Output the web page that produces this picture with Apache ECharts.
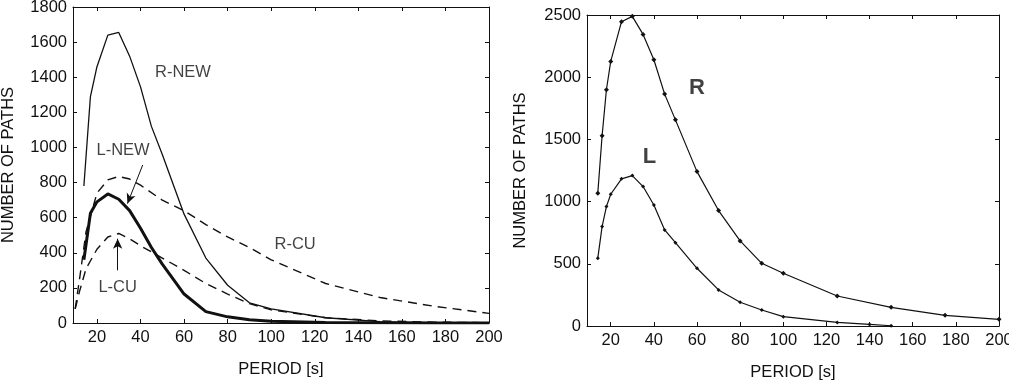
<!DOCTYPE html>
<html>
<head>
<meta charset="utf-8">
<script src="https://cdn.jsdelivr.net/npm/echarts@6/dist/echarts.min.js"></script>
<style>
  html, body { margin: 0; padding: 0; background: #fff; }
  #chart { width: 1009px; height: 386px; }
</style>
</head>
<body>
<div id="chart"></div>
<script>
// left panel: period [s] and number of paths per curve
const periodsNew = [14, 17, 20, 25, 30, 35, 40, 45, 50, 60, 70, 80, 90, 100, 125, 150, 175, 200]
const rNew = [780, 1290, 1460, 1640, 1655, 1520, 1345, 1120, 960, 620, 370, 215, 115, 80, 30, 8, 2, 0]
const lNew = [360, 625, 690, 735, 705, 640, 540, 430, 335, 165, 65, 35, 18, 10, 3, 1, 0, 0]

const periodsCu = [10, 12, 15, 20, 25, 30, 35, 40, 50, 60, 70, 80, 90, 100, 125, 150, 175, 200]
const rCu = [80, 250, 520, 740, 815, 835, 820, 785, 700, 640, 560, 490, 430, 360, 225, 145, 95, 55]
const lCu = [80, 180, 310, 420, 490, 510, 480, 440, 370, 300, 225, 165, 110, 75, 30, 12, 5, 2]

// right panel
const periodsR = [14, 16, 18, 20, 25, 30, 35, 40, 45, 50, 60, 70, 80, 90, 100, 125, 150, 175, 200]
const rVals = [1067, 1529, 1899, 2127, 2446, 2489, 2344, 2140, 1864, 1657, 1241, 928, 684, 504, 424, 241, 150, 86, 54]
const periodsL = [14, 16, 18, 20, 25, 30, 35, 40, 45, 50, 60, 70, 80, 90, 100, 125, 140, 150]
const lVals = [545, 799, 960, 1059, 1183, 1209, 1121, 973, 772, 670, 464, 290, 191, 129, 75, 29, 13, 2]

const xTicks = [20, 40, 60, 80, 100, 120, 140, 160, 180, 200]
const xTitle = 'PERIOD [s]'
const yTitle = 'NUMBER OF PATHS'

const zip = (xs, ys) => xs.map((x, i) => [x, ys[i]])

const font = 'Liberation Sans, Arial, Helvetica, sans-serif'
const ink = '#111'
const fs = 16.5

function xAxisPair(gridIndex) {
  const base = {
    gridIndex: gridIndex,
    type: 'value',
    min: 9,
    max: 200,
    splitLine: { show: false },
    axisLine: { show: true, onZero: false, lineStyle: { color: ink, width: 1 } },
    axisTick: { show: true, inside: true, length: 4, customValues: xTicks, lineStyle: { color: ink } }
  }
  return [
    Object.assign({}, base, {
      position: 'bottom',
      name: xTitle,
      nameLocation: 'middle',
      nameGap: 38,
      nameTextStyle: { fontFamily: font, fontSize: fs, color: ink },
      axisLabel: {
        customValues: xTicks, margin: 6, fontFamily: font, fontSize: fs, color: ink,
        alignMinLabel: 'center', alignMaxLabel: 'center',
        formatter: v => String(v)
      }
    }),
    Object.assign({}, base, { position: 'top', axisLabel: { show: false } })
  ]
}

function yAxisPair(gridIndex, max, step, gap) {
  const base = {
    gridIndex: gridIndex,
    type: 'value',
    min: 0,
    max: max,
    interval: step,
    splitLine: { show: false },
    axisLine: { show: true, onZero: false, lineStyle: { color: ink, width: 1 } },
    axisTick: { show: true, inside: true, length: 4, lineStyle: { color: ink } }
  }
  return [
    Object.assign({}, base, {
      position: 'left',
      name: yTitle,
      nameLocation: 'middle',
      nameGap: gap,
      nameTextStyle: { fontFamily: font, fontSize: fs, color: ink },
      axisLabel: { margin: 6, fontFamily: font, fontSize: fs, color: ink, formatter: v => String(v) }
    }),
    Object.assign({}, base, { position: 'right', axisLabel: { show: false } })
  ]
}

function curve(name, data, width, dashed, xi, yi) {
  return {
    name: name,
    type: 'line',
    xAxisIndex: xi,
    yAxisIndex: yi,
    data: data,
    showSymbol: false,
    lineStyle: { color: ink, width: width, type: dashed ? [9, 6] : 'solid' },
    silent: true,
    z: 3
  }
}

function tag(text, pos, xi, yi, size, bold) {
  return {
    type: 'scatter',
    xAxisIndex: xi,
    yAxisIndex: yi,
    symbolSize: 1,
    itemStyle: { color: 'rgba(0,0,0,0)' },
    silent: true,
    data: [pos],
    label: {
      show: true,
      position: 'inside',
      formatter: text,
      fontFamily: font,
      fontSize: size,
      fontWeight: bold ? 'bold' : 'normal',
      color: ink
    }
  }
}

const arrows = {
  type: 'line',
  xAxisIndex: 0,
  yAxisIndex: 0,
  data: [],
  silent: true,
  markLine: {
    silent: true,
    symbol: ['none', 'arrow'],
    symbolSize: [7, 10],
    label: { show: false },
    lineStyle: { color: ink, width: 1, type: 'solid' },
    data: [
      [{ coord: [41, 900] }, { coord: [34, 680] }],
      [{ coord: [29.5, 300] }, { coord: [29.5, 480] }]
    ]
  }
}

const chart = echarts.init(document.getElementById('chart'))
chart.setOption({
  animation: false,
  backgroundColor: '#fff',
  grid: [
    { left: 73, top: 7, right: 520, bottom: 63, outerBoundsMode: 'none' },
    { left: 587, top: 15, right: 10, bottom: 60, outerBoundsMode: 'none' }
  ],
  xAxis: [...xAxisPair(0), ...xAxisPair(1)],
  yAxis: [...yAxisPair(0, 1800, 200, 56), ...yAxisPair(1, 2500, 500, 58)],
  series: [
    curve('R-NEW', zip(periodsNew, rNew), 1.3, false, 0, 0),
    curve('L-NEW', zip(periodsNew, lNew), 3, false, 0, 0),
    curve('R-CU', zip(periodsCu, rCu), 1.4, true, 0, 0),
    curve('L-CU', zip(periodsCu, lCu), 1.4, true, 0, 0),
    arrows,
    tag('R-NEW', [59.5, 1430], 0, 0, fs, false),
    tag('L-NEW', [32, 985], 0, 0, fs, false),
    tag('L-CU', [29.5, 205], 0, 0, fs, false),
    tag('R-CU', [111, 450], 0, 0, fs, false),
    {
      name: 'R',
      type: 'line',
      xAxisIndex: 2,
      yAxisIndex: 2,
      data: zip(periodsR, rVals),
      symbol: 'diamond',
      symbolSize: 5,
      itemStyle: { color: ink },
      lineStyle: { color: ink, width: 1.2 },
      silent: true
    },
    {
      name: 'L',
      type: 'line',
      xAxisIndex: 2,
      yAxisIndex: 2,
      data: zip(periodsL, lVals),
      symbol: 'diamond',
      symbolSize: 4,
      itemStyle: { color: ink },
      lineStyle: { color: ink, width: 1.2 },
      silent: true
    },
    tag('R', [60, 1915], 2, 2, 22, true),
    tag('L', [38, 1360], 2, 2, 22, true)
  ]
})
</script>
</body>
</html>
